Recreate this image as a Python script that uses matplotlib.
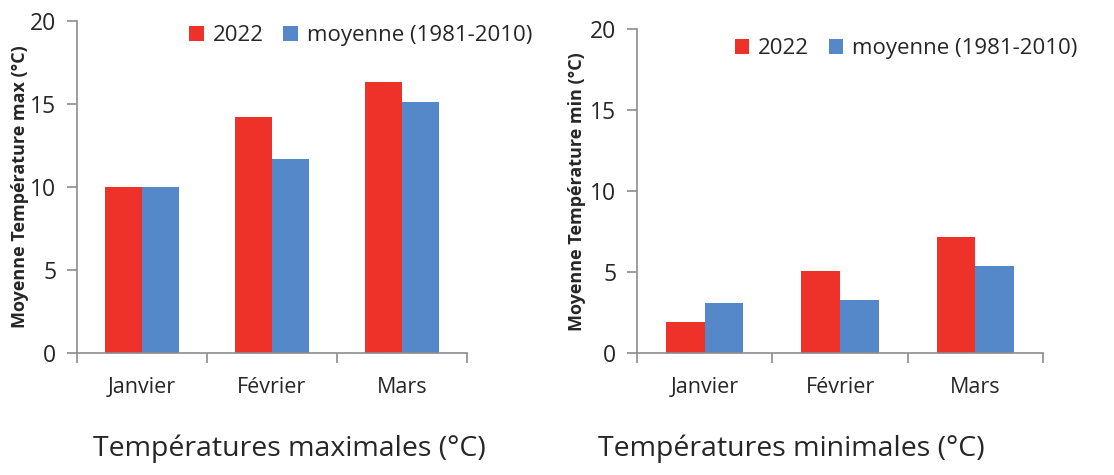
import matplotlib
matplotlib.use("Agg")
import matplotlib.pyplot as plt
import numpy as np

plt.rcParams['font.family'] = ['Open Sans', 'DejaVu Sans']

months = ["Janvier", "Février", "Mars"]
tmax_2022 = [10.0, 14.2, 16.3]
tmax_moy = [10.0, 11.7, 15.1]
tmin_2022 = [1.9, 5.1, 7.2]
tmin_moy = [3.1, 3.3, 5.4]
yticks = [0, 5, 10, 15, 20]
series_labels = ["2022", "moyenne (1981-2010)"]
ylabels = ["Moyenne Température max (°C)", "Moyenne Température min (°C)"]
titles = ["Températures maximales (°C)", "Températures minimales (°C)"]

RED = "#EE3129"
BLUE = "#5588C8"
AXC = "#8C8C8C"
TXT = "#262626"

fig = plt.figure(figsize=(11.14, 4.75), dpi=100)
ax1 = fig.add_axes([0.0691, 0.2568, 0.3501, 0.6990])
ax2 = fig.add_axes([0.5718, 0.2562, 0.3645, 0.6827])

def draw(ax, a, b, ylabel, title, legpos, titlex, lpad):
    x = np.arange(len(months))
    w = 0.285
    ax.bar(x - w / 2, a, w, color=RED, label=series_labels[0])
    ax.bar(x + w / 2, b, w, color=BLUE, label=series_labels[1])
    ax.set_xlim(-0.5, len(months) - 0.5)
    ax.set_ylim(0, 20)
    ax.set_yticks(yticks)
    ax.set_yticklabels([str(v) for v in yticks], fontsize=16.5, color=TXT)
    ax.set_xticks(x)
    ax.set_xticklabels(months, fontsize=15.5, color=TXT)
    ax.set_xticks(np.arange(-0.5, len(months)), minor=True)
    ax.tick_params(axis='x', which='major', length=0, pad=17)
    ax.tick_params(axis='x', which='minor', length=7, color=AXC, width=1.2)
    ax.tick_params(axis='y', length=7, color=AXC, width=1.2, pad=8)
    for s in ['top', 'right']:
        ax.spines[s].set_visible(False)
    for s in ['left', 'bottom']:
        ax.spines[s].set_color(AXC)
        ax.spines[s].set_linewidth(1.2)
    ax.set_ylabel(ylabel, fontsize=13, fontweight='bold', color=TXT, labelpad=lpad)
    leg = ax.legend(loc='upper right', bbox_to_anchor=legpos, ncol=2, frameon=False,
                    fontsize=16, handlelength=0.65, handleheight=0.65,
                    handletextpad=0.4, columnspacing=0.9, borderaxespad=0)
    for t in leg.get_texts():
        t.set_color(TXT)
    fig.text(titlex, 0.025, title, fontsize=20.5, color=TXT, ha='center', va='bottom')

draw(ax1, tmax_2022, tmax_moy, ylabels[0], titles[0], (1.19, 1.015), 0.260, 1)
draw(ax2, tmin_2022, tmin_moy, ylabels[1], titles[1], (1.107, 1.0), 0.710, 2.5)

fig.savefig("out.png", dpi=100)
